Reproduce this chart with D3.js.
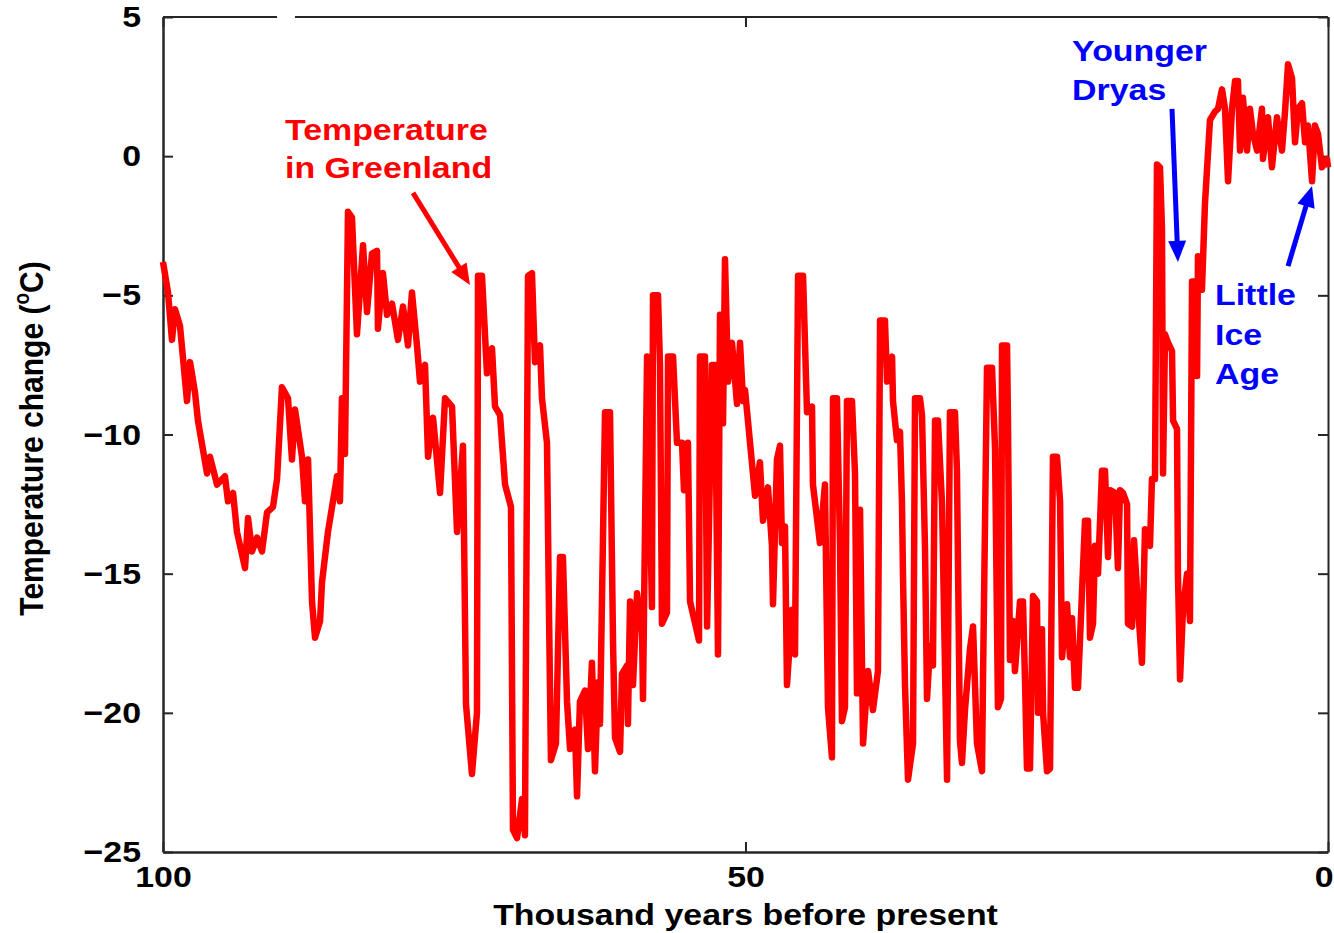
<!DOCTYPE html>
<html><head><meta charset="utf-8">
<script src="https://cdn.jsdelivr.net/npm/d3@7"></script>
<style>
html,body{margin:0;padding:0;background:#fff;overflow:hidden}
text{font-family:"Liberation Sans",Arial,Helvetica,sans-serif;font-weight:bold}
</style>
</head><body>
<svg id="chart" width="1334" height="933"></svg>
<script>
// ---- data (age in thousand years before present, temperature change in °C) ----
const ageKyr = [100.00,99.57,99.23,98.97,98.54,97.94,97.68,97.25,97.00,96.22,95.97,95.36,94.68,94.42,93.99,93.65,92.96,92.70,92.36,91.93,91.50,91.07,90.56,90.21,89.79,89.27,88.93,88.67,88.07,87.81,87.55,87.21,86.95,86.52,86.35,85.84,85.06,84.81,84.64,84.38,84.12,83.78,83.35,82.83,82.49,82.06,81.63,81.55,81.12,80.77,80.34,79.83,79.40,78.97,78.63,78.20,77.94,77.51,77.25,76.82,76.22,75.79,75.19,74.76,74.25,73.99,73.48,73.05,72.96,72.62,72.19,71.76,71.50,71.07,70.64,70.13,69.96,69.61,69.18,68.93,68.67,68.33,68.07,67.64,67.47,67.04,66.87,66.70,66.27,65.92,65.67,65.32,65.06,64.64,64.46,64.21,63.78,63.52,63.18,62.92,62.66,62.49,62.06,61.63,61.37,61.20,60.77,60.60,60.17,60.09,59.91,59.66,59.31,58.88,58.80,58.45,58.03,57.94,57.51,57.34,57.17,56.74,56.65,56.22,55.88,55.45,55.28,54.94,54.76,53.99,53.91,53.48,53.30,52.88,52.62,52.36,52.19,51.93,51.76,51.50,51.16,50.73,50.47,50.21,50.04,49.61,49.18,48.76,48.50,48.07,47.73,47.64,47.30,47.04,46.87,46.61,46.44,46.01,45.75,45.49,45.06,44.72,44.29,44.21,43.61,43.18,42.92,42.58,42.49,42.15,41.89,41.72,41.46,41.29,40.86,40.60,40.43,40.17,39.91,39.48,39.06,38.63,38.45,38.03,37.85,37.42,37.34,37.00,36.74,36.57,36.48,36.31,36.05,35.62,35.45,35.02,34.85,34.59,34.42,34.16,33.91,33.73,33.48,33.13,32.70,32.45,32.02,31.85,31.59,31.42,31.16,30.73,30.47,30.13,29.70,29.61,29.27,28.84,28.58,28.33,28.07,27.98,27.55,27.47,27.30,27.04,26.87,26.44,26.18,26.01,25.84,25.58,25.32,24.98,24.89,24.55,24.46,24.12,23.86,23.61,23.26,23.00,22.83,22.40,22.15,21.97,21.72,21.46,21.12,20.86,20.60,20.43,20.17,20.00,19.74,19.40,19.14,18.88,18.71,18.28,18.03,17.85,17.60,17.25,17.17,16.82,16.65,16.31,15.97,15.71,15.28,15.11,14.85,14.68,14.42,14.25,14.16,13.99,13.73,13.39,13.30,12.96,12.88,12.70,12.45,12.10,11.85,11.67,11.42,11.24,11.16,10.82,10.56,10.13,9.70,9.44,9.10,8.84,8.58,8.24,7.98,7.73,7.55,7.30,6.95,6.70,6.44,6.09,5.67,5.58,5.15,4.81,4.38,3.95,3.69,3.43,3.09,2.83,2.58,2.23,1.97,1.72,1.37,1.12,0.86,0.52,0.09,0.00];
const tempC = [-3.8,-4.9,-6.6,-5.5,-6.1,-8.8,-7.4,-8.5,-9.5,-11.4,-10.8,-11.8,-11.5,-12.4,-12.1,-13.5,-14.8,-13.0,-14.2,-13.7,-14.2,-12.8,-12.6,-11.6,-8.3,-8.7,-10.9,-9.1,-10.8,-12.4,-10.9,-16.0,-17.3,-16.7,-15.3,-13.5,-11.5,-12.4,-8.7,-10.7,-2.0,-2.2,-6.4,-3.2,-5.6,-3.5,-3.4,-6.2,-4.2,-5.7,-5.3,-6.6,-5.4,-6.8,-4.9,-6.8,-8.1,-7.5,-10.8,-9.4,-12.1,-8.7,-9.0,-13.5,-10.4,-19.7,-22.2,-20.0,-4.3,-4.3,-7.8,-6.9,-9.0,-9.3,-11.8,-12.6,-24.2,-24.5,-23.1,-24.4,-4.3,-4.2,-7.4,-6.8,-8.7,-10.3,-16.3,-21.7,-21.1,-14.4,-14.4,-19.6,-21.3,-20.6,-23.0,-19.6,-19.2,-21.3,-18.2,-22.1,-18.9,-20.4,-9.2,-9.2,-17.5,-20.9,-21.4,-18.6,-18.3,-20.4,-16.0,-19.0,-15.7,-17.1,-19.5,-7.2,-16.2,-5.0,-5.0,-7.5,-16.8,-16.4,-7.2,-7.2,-10.3,-10.3,-12.0,-10.3,-16.0,-17.4,-7.2,-7.2,-16.9,-7.5,-7.5,-17.9,-5.7,-9.6,-3.7,-8.1,-6.7,-8.9,-6.7,-8.8,-8.4,-10.3,-12.2,-11.0,-13.1,-11.9,-14.0,-16.1,-10.9,-10.4,-13.9,-13.3,-19.0,-16.3,-17.9,-4.3,-4.3,-9.2,-9.0,-11.8,-13.9,-11.8,-19.8,-21.6,-8.7,-8.7,-13.9,-20.3,-19.8,-8.8,-8.8,-11.4,-19.3,-12.7,-21.1,-18.5,-19.9,-18.5,-5.9,-5.9,-8.1,-7.2,-8.8,-10.2,-9.9,-12.4,-15.1,-19.0,-22.4,-21.1,-8.7,-8.7,-9.3,-14.1,-19.5,-17.6,-18.3,-9.5,-9.5,-12.5,-22.4,-9.2,-9.2,-11.3,-21.0,-21.8,-19.9,-17.7,-16.9,-21.1,-22.1,-18.7,-7.6,-7.6,-10.5,-19.8,-19.5,-6.8,-6.8,-9.5,-18.1,-16.7,-18.5,-16.0,-16.0,-18.8,-22.0,-22.0,-15.8,-16.0,-20.0,-17.0,-20.0,-22.1,-22.0,-10.8,-10.8,-12.4,-18.0,-16.1,-18.0,-16.6,-19.1,-19.1,-15.7,-13.1,-13.1,-17.3,-16.8,-14.0,-15.0,-11.3,-11.3,-14.4,-12.0,-12.1,-14.8,-12.0,-12.1,-12.5,-16.8,-16.9,-13.8,-16.2,-18.2,-13.4,-14.0,-11.6,-11.6,-0.3,-0.4,-2.6,-11.4,-6.4,-6.7,-7.0,-9.5,-9.8,-15.0,-18.8,-16.3,-15.0,-16.7,-4.5,-4.5,-7.9,-3.6,-4.8,-1.7,1.3,1.6,1.7,2.4,1.7,-0.9,1.7,2.7,2.7,0.2,2.1,0.2,1.7,0.8,0.2,1.7,-0.1,1.4,-0.4,1.4,0.2,1.6,3.3,2.8,0.5,1.7,1.9,0.5,1.1,-0.9,1.1,0.8,-0.4,-0.1,-0.4];

const xTickValues = [100, 50, 0];
const yTickValues = [5, 0, -5, -10, -15, -20, -25];
const xDomain = [100, 0];
const yDomain = [-25, 5];
const xAxisTitle = "Thousand years before present";
const yAxisTitleParts = ["Temperature change (", "o", "C)"];

// annotation labels and anchor points in data units (age, temp)
const redLabelLines = ["Temperature", "in Greenland"];
const redLabelAt = [89.53, 0.58];
const redArrow = [[78.54, -1.32], [73.65, -4.63]];
const ydLabelLines = ["Younger", "Dryas"];
const ydLabelAt = [21.97, 3.42];
const ydArrow = [[13.39, 1.70], [12.88, -3.80]];
const liaLabelLines = ["Little", "Ice", "Age"];
const liaLabelAt = [9.70, -5.35];
const liaArrow = [[3.43, -3.95], [1.37, -1.07]];

// ---- drawing ----
const plot = {left: 163, right: 1328, top: 17, bottom: 852};
const svg = d3.select("#chart");
const x = d3.scaleLinear().domain(xDomain).range([plot.left, plot.right]);
const y = d3.scaleLinear().domain(yDomain).range([plot.bottom, plot.top]);
const SX = 1.13; // horizontal stretch of the lettering
const AX = "#262626";

function styleAxis(g, withText) {
  g.select(".domain").attr("stroke", AX).attr("stroke-width", 2.5);
  g.selectAll(".tick line").attr("stroke", AX).attr("stroke-width", 2);
  if (withText) {
    g.selectAll(".tick text").attr("fill", "#000").attr("font-size", 30)
      .attr("font-family", '"Liberation Sans",Arial,sans-serif').attr("font-weight", "bold")
      .attr("transform", `scale(${SX},1)`);
  }
}

// left axis
const gL = svg.append("g").attr("transform", `translate(${plot.left},0)`)
  .call(d3.axisLeft(y).tickValues(yTickValues).tickSizeInner(-10).tickSizeOuter(0).tickPadding(19.5));
styleAxis(gL, true);
// bottom axis
const gB = svg.append("g").attr("transform", `translate(0,${plot.bottom})`)
  .call(d3.axisBottom(x).tickValues(xTickValues).tickSizeInner(-10).tickSizeOuter(0).tickPadding(14));
styleAxis(gB, true);
// keep the last label (at the right edge) inside the page
gB.selectAll(".tick").filter(d => d === 0).select("text")
  .attr("text-anchor", "end").attr("x", 5 / SX);
// right axis (mirror ticks)
const gR = svg.append("g").attr("transform", `translate(${plot.right},0)`)
  .call(d3.axisRight(y).tickValues(yTickValues).tickSizeInner(-10).tickSizeOuter(0).tickFormat(""));
styleAxis(gR, false);
gR.select(".domain").attr("stroke-width", 2);
// top axis (mirror ticks), border drawn separately
const gT = svg.append("g").attr("transform", `translate(0,${plot.top})`)
  .call(d3.axisTop(x).tickValues(xTickValues).tickSizeInner(-10).tickSizeOuter(0).tickFormat(""));
styleAxis(gT, false);
gT.select(".domain").remove();
svg.append("path")
  .attr("d", `M${x(100)},${y(5)}H${x(90.21)}M${x(88.67)},${y(5)}H${x(0)}`)
  .attr("stroke", AX).attr("stroke-width", 2).attr("fill", "none");

// series
const series = ageKyr.map((a, i) => ({age: a, t: tempC[i]}));
const line = d3.line().x(d => x(d.age)).y(d => y(d.t));
svg.append("path").datum(series)
  .attr("d", line)
  .attr("fill", "none").attr("stroke", "#ff0000").attr("stroke-width", 6.5)
  .attr("stroke-linejoin", "round").attr("stroke-linecap", "butt");

// axis titles
svg.append("text")
  .attr("transform", `translate(${x(50)},925) scale(${SX},1)`)
  .attr("text-anchor", "middle").attr("font-size", 30).attr("fill", "#000")
  .text(xAxisTitle);
const yt = svg.append("text")
  .attr("transform", `translate(43,${(plot.top + plot.bottom) / 2 + 4}) scale(${SX},1) rotate(-90)`)
  .attr("text-anchor", "middle").attr("font-size", 30).attr("fill", "#000");
yt.append("tspan").text(yAxisTitleParts[0]);
yt.append("tspan").attr("font-size", 19).attr("dy", -12).text(yAxisTitleParts[1]);
yt.append("tspan").attr("dy", 12).text(yAxisTitleParts[2]);

// annotations
function label(lines, at, color, lh) {
  const g = svg.append("g").attr("transform", `translate(${x(at[0])},${y(at[1])}) scale(${SX},1)`);
  lines.forEach((s, i) => {
    g.append("text").attr("x", 0).attr("y", i * lh).attr("font-size", 30)
      .attr("fill", color).text(s);
  });
}
function arrow(pts, color) {
  const [x0, y0] = [x(pts[0][0]), y(pts[0][1])];
  const [x1, y1] = [x(pts[1][0]), y(pts[1][1])];
  const ang = Math.atan2(y1 - y0, x1 - x0);
  const hl = 21, hw = 9;
  const bx = x1 - hl * Math.cos(ang), by = y1 - hl * Math.sin(ang);
  svg.append("line").attr("x1", x0).attr("y1", y0).attr("x2", bx + 2 * Math.cos(ang)).attr("y2", by + 2 * Math.sin(ang))
    .attr("stroke", color).attr("stroke-width", 5);
  const nx = -Math.sin(ang), ny = Math.cos(ang);
  svg.append("path")
    .attr("d", `M${x1},${y1}L${bx + hw * nx},${by + hw * ny}L${bx - hw * nx},${by - hw * ny}Z`)
    .attr("fill", color);
}
label(redLabelLines, redLabelAt, "#ff0000", 38);
arrow(redArrow, "#ff0000");
label(ydLabelLines, ydLabelAt, "#0000ff", 39);
arrow(ydArrow, "#0000ff");
label(liaLabelLines, liaLabelAt, "#0000ff", 39.5);
arrow(liaArrow, "#0000ff");
</script>
</body></html>
